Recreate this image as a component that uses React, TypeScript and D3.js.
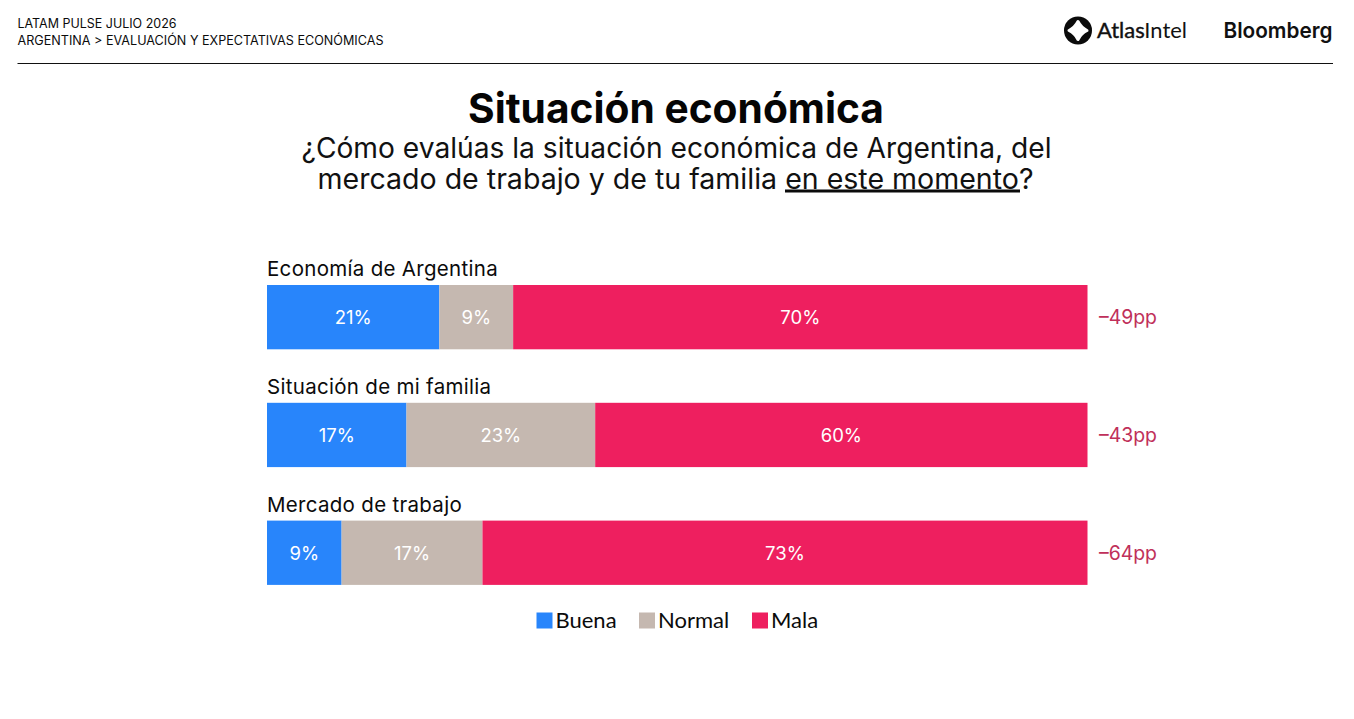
import * as d3 from "d3";

const CATEGORIES = ["Economía de Argentina", "Situación de mi familia", "Mercado de trabajo"];
const BUENA = [21, 17, 9];
const NORMAL = [9, 23, 17];
const MALA = [70, 60, 73];
const NET = ["–49pp", "–43pp", "–64pp"];
const SERIES = ["Buena", "Normal", "Mala"];
const COLORS = ["#2885fb", "#c5b8b0", "#ee1f5f"];

const WIDTH = 1354;
const HEIGHT = 719;
const FONT = "Inter, 'Noto Sans', sans-serif";
const LABEL_FONT = "Lato, 'Open Sans', sans-serif";
const ROW_STEP = 117.8;
const BAR_H = 64.3;

const rows = CATEGORIES.map((name, i) => ({
  name,
  Buena: BUENA[i],
  Normal: NORMAL[i],
  Mala: MALA[i],
}));

const stacked = d3
  .stack<(typeof rows)[number]>()
  .keys(SERIES)
  .offset(d3.stackOffsetExpand)(rows);

const x = d3.scaleLinear().domain([0, 1]).range([267, 1087.5]);
const y = d3
  .scaleBand()
  .domain(CATEGORIES)
  .range([285, 285 + 2 * ROW_STEP + BAR_H])
  .paddingInner(1 - BAR_H / ROW_STEP)
  .paddingOuter(0);

const color = d3.scaleOrdinal<string>().domain(SERIES).range(COLORS);
const legendX = d3.scaleOrdinal<number>().domain(SERIES).range([536.5, 639, 752]);

function AtlasIcon({ cx, cy }: { cx: number; cy: number }) {
  return (
    <g transform={`translate(${cx},${cy})`}>
      <circle r={14} fill="#0b0b0b" />
      <path
        d="M0,-9 Q3,-3 9,0 Q3,3 0,9 Q-3,3 -9,0 Q-3,-3 0,-9Z"
        fill="#fff"
        stroke="#fff"
        strokeWidth={3}
        strokeLinejoin="round"
      />
    </g>
  );
}

export default function App() {
  const bw = y.bandwidth();
  return (
    <svg
      width={WIDTH}
      height={HEIGHT}
      viewBox={`0 0 ${WIDTH} ${HEIGHT}`}
      style={{ position: "absolute", left: 0, top: 0, background: "#fff" }}
    >
      {/* Header */}
      <g fontFamily={FONT} fontSize={12.5} fill="#0b0b0b">
        <text x={17.5} y={28} textLength={159} lengthAdjust="spacingAndGlyphs">LATAM PULSE JULIO 2026</text>
        <text x={17.5} y={45} textLength={366} lengthAdjust="spacingAndGlyphs">ARGENTINA &gt; EVALUACIÓN Y EXPECTATIVAS ECONÓMICAS</text>
      </g>
      <line x1={17.5} x2={1333} y1={63.5} y2={63.5} stroke="#111" strokeWidth={1.2} />

      {/* Logos */}
      <AtlasIcon cx={1078} cy={30.5} />
      <text x={1097} y={38} fontFamily={LABEL_FONT} fontSize={22} fill="#111" textLength={90} lengthAdjust="spacingAndGlyphs">
        <tspan stroke="#111" strokeWidth={0.4}>Atlas</tspan>
        <tspan>Intel</tspan>
      </text>
      <text x={1223.5} y={38} fontFamily={FONT} fontSize={22} fontWeight={600} fill="#111" textLength={109} lengthAdjust="spacingAndGlyphs">Bloomberg</text>

      {/* Title */}
      <text x={676} y={122.5} textAnchor="middle" fontFamily={FONT} fontSize={41} fontWeight={700} fill="#050505" textLength={416} lengthAdjust="spacingAndGlyphs">Situación económica</text>
      <g fontFamily={FONT} fontSize={28} fill="#111" textAnchor="middle">
        <text x={676.5} y={157.5} textLength={750} lengthAdjust="spacingAndGlyphs">¿Cómo evalúas la situación económica de Argentina, del</text>
        <text x={675.5} y={188.5} textLength={716} lengthAdjust="spacingAndGlyphs">
          mercado de trabajo y de tu familia en este momento?
        </text>
      </g>
      <line x1={785} x2={1020} y1={191} y2={191} stroke="#0b0b0b" strokeWidth={3.2} />

      {/* Stacked bars */}
      {stacked.map((layer) =>
        layer.map((d) => {
          const name = d.data.name;
          const x0 = x(d[0]);
          const x1 = x(d[1]);
          const top = y(name) ?? 0;
          return (
            <g key={`${layer.key}-${name}`}>
              <rect x={x0} y={top} width={x1 - x0} height={bw} fill={color(layer.key)} />
              <text
                x={(x0 + x1) / 2}
                y={top + bw / 2 + 7}
                textAnchor="middle"
                fontFamily={FONT}
                fontSize={18.5}
                fill="#fff"
              >
                {d.data[layer.key as "Buena"]}%
              </text>
            </g>
          );
        })
      )}

      {/* Row labels and net values */}
      {CATEGORIES.map((name, i) => (
        <g key={name}>
          <text x={267} y={(y(name) ?? 0) - 9} fontFamily={FONT} fontSize={20.5} letterSpacing={0.3} fill="#0b0b0b">{name}</text>
          <text x={1099} y={(y(name) ?? 0) + bw / 2 + 7} fontFamily={FONT} fontSize={20} fill="#c0305a" textLength={58} lengthAdjust="spacingAndGlyphs">{NET[i]}</text>
        </g>
      ))}

      {/* Legend */}
      {SERIES.map((s) => (
        <g key={s}>
          <rect x={legendX(s)} y={612.5} width={16} height={16} fill={color(s)} />
          <text x={legendX(s) + 19} y={628} fontFamily={LABEL_FONT} fontSize={22} fill="#0b0b0b">{s}</text>
        </g>
      ))}
    </svg>
  );
}
